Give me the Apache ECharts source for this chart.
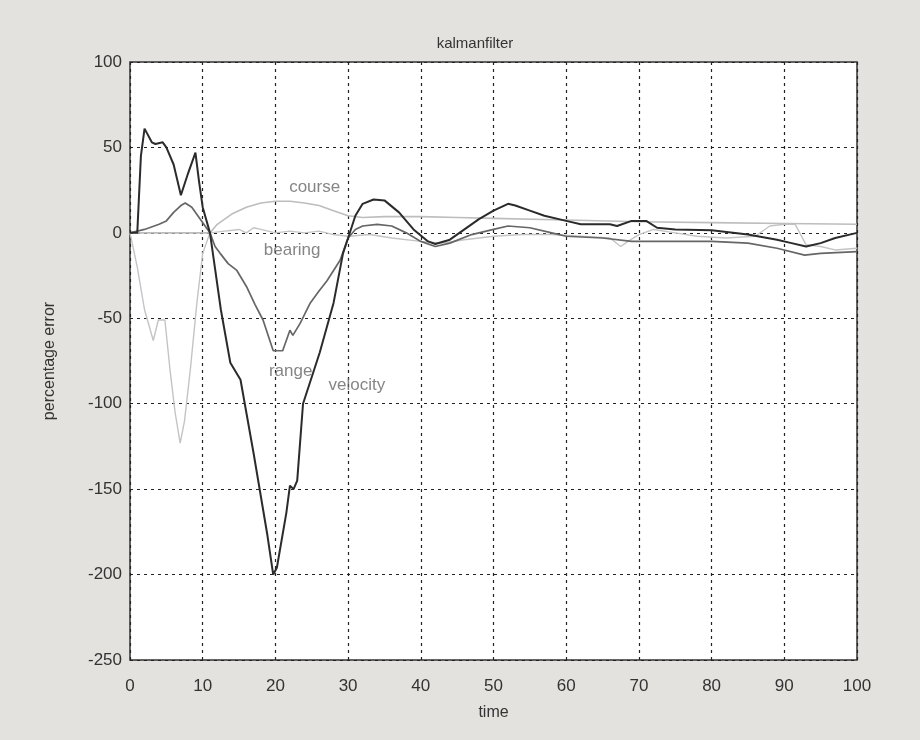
<!DOCTYPE html>
<html>
<head>
<meta charset="utf-8">
<script src="https://cdn.jsdelivr.net/npm/echarts@6/dist/echarts.min.js"></script>
<style>
  html, body { margin: 0; padding: 0; background: #e4e2de; }
  #myChart { width: 920px; height: 740px; }
</style>
</head>
<body>
<div id="myChart"></div>
<script>
// time ticks and y ticks
var xTicks = [0, 10, 20, 30, 40, 50, 60, 70, 80, 90, 100]
var yTicks = [-250, -200, -150, -100, -50, 0, 50, 100]

// [time, percentage error]
var velocity = [
  [0, 0], [1, 0], [1.5, 45], [2, 61], [3, 53], [3.5, 52], [4.5, 53], [5, 50], [6, 40], [7, 22],
  [8, 35], [9, 47], [9.5, 30], [10, 15], [11, 0], [11.4, -12], [12.5, -45], [13.8, -76], [15.2, -86],
  [17, -129], [18.9, -177], [19.7, -200], [20.2, -196], [21.5, -164], [22, -148], [22.5, -150],
  [23, -145], [23.8, -100], [26.1, -70], [28, -41], [29.3, -12], [30, -3], [31, 10], [32, 17],
  [33.5, 19.5], [35, 19], [37, 12], [39, 2], [41, -5], [42, -6.5], [44, -4], [46, 2], [48, 8],
  [50, 13], [52, 17], [53, 16], [55, 13], [57, 10], [60, 7], [62, 5], [66, 5], [67, 4], [69, 7],
  [71, 7], [72.5, 3], [75, 2], [80, 1.5], [85, -1], [89, -4], [91, -6], [93, -8], [95, -6],
  [97, -3], [100, 0]
]
var range = [
  [0, 0], [2, 2], [4, 5], [5, 7], [6, 12], [7, 16], [7.6, 17.5], [8.5, 15], [9.5, 9], [10.5, 3],
  [11, 0], [11.7, -8], [12.4, -12], [13.5, -18], [14.7, -22], [16.1, -32], [17.2, -42], [18.3, -51],
  [19.7, -69], [21, -69], [22, -57], [22.4, -60], [23.4, -53], [24.8, -41], [26, -34], [27.1, -28],
  [28.9, -16], [30, -3], [31, 2], [32, 4], [34, 5], [36, 4], [38, 0], [40, -5], [42, -8], [44, -6],
  [47, -1], [50, 2], [52, 4], [55, 3], [58, 0], [60, -2], [65, -3], [69, -5], [75, -5], [80, -5],
  [85, -6], [89, -9], [92.8, -13], [95, -12], [100, -11]
]
var course = [
  [0, 0], [11, 0], [12, 5], [14, 11], [16, 15], [18, 17.5], [20, 18.5], [22, 18.5], [24, 17.5],
  [26, 16], [28, 13], [30, 10], [32, 9], [35, 9.5], [40, 9.5], [45, 9], [50, 8.5], [60, 7.5],
  [70, 6.5], [80, 6], [90, 5.5], [100, 5]
]
var bearing = [
  [0, 0], [1, -20], [2, -45], [3.2, -63], [3.9, -51], [4.8, -51], [5.5, -80], [6.2, -105],
  [6.9, -123], [7.5, -110], [8.3, -80], [9.2, -41], [10, -12], [11, 0], [13, 1], [15, 2], [16, 0],
  [17, 3], [18, 2], [20, 0], [22, 1], [24, 0], [26, 1], [28, -1], [30, -2], [33, -1], [36, -3],
  [40, -5], [43, -6], [46, -4], [50, -2], [54, -1], [58, -1], [62, -2], [66, -3], [67.5, -8],
  [68.5, -5], [70, -1], [72, 2], [75, 0], [78, -2], [82, -3], [86, -2], [88, 4], [90, 5],
  [91.5, 5], [93, -7], [95, -8], [97, -10], [100, -9]
]
// text labels written on the plot
var curveLabels = [
  { name: 'course', value: [25.4, 26.8] },
  { name: 'bearing', value: [22.3, -10.5] },
  { name: 'range', value: [22.1, -81] },
  { name: 'velocity', value: [31.2, -89] }
]

var myChart = echarts.init(document.getElementById('myChart'))

var font = 'Liberation Sans, Arial, sans-serif'
function line (name, data, color, width) {
  return {
    name: name,
    type: 'line',
    data: data,
    symbol: 'none',
    lineStyle: { color: color, width: width },
    z: 3
  }
}

myChart.setOption({
  backgroundColor: '#e4e2de',
  animation: false,
  title: {
    text: 'kalmanfilter',
    left: 470,
    textAlign: 'center',
    top: 31,
    textStyle: { fontFamily: font, fontSize: 15, fontWeight: 'normal', color: '#333' }
  },
  grid: {
    left: 130,
    right: 63,
    top: 62,
    bottom: 80,
    show: true,
    backgroundColor: '#ffffff',
    borderColor: '#333',
    borderWidth: 1.5
  },
  xAxis: {
    type: 'value',
    min: xTicks[0],
    max: xTicks[xTicks.length - 1],
    interval: 10,
    name: 'time',
    nameLocation: 'middle',
    nameGap: 45,
    nameTextStyle: { fontFamily: font, fontSize: 16, color: '#333' },
    axisLine: { show: false },
    axisTick: { show: false },
    axisLabel: { fontFamily: font, fontSize: 17, color: '#333', margin: 18 },
    splitLine: { show: true, lineStyle: { color: '#222', type: [3, 4], width: 1.2 } }
  },
  yAxis: {
    type: 'value',
    min: yTicks[0],
    max: yTicks[yTicks.length - 1],
    interval: 50,
    name: 'percentage error',
    nameLocation: 'middle',
    nameGap: 72,
    nameTextStyle: { fontFamily: font, fontSize: 16, color: '#333' },
    axisLine: { show: false },
    axisTick: { show: false },
    axisLabel: { fontFamily: font, fontSize: 17, color: '#333', margin: 8 },
    splitLine: { show: true, lineStyle: { color: '#222', type: [3, 4], width: 1.2 } }
  },
  series: [
    line('bearing', bearing, '#c4c4c4', 1.4),
    line('course', course, '#bdbdbd', 1.6),
    line('range', range, '#666666', 1.7),
    line('velocity', velocity, '#2b2b2b', 2),
    {
      type: 'scatter',
      data: curveLabels,
      symbolSize: 0,
      silent: true,
      z: 5,
      label: {
        show: true,
        position: 'inside',
        formatter: '{b}',
        fontFamily: font,
        fontSize: 17,
        color: '#666'
      }
    }
  ]
})
</script>
</body>
</html>
